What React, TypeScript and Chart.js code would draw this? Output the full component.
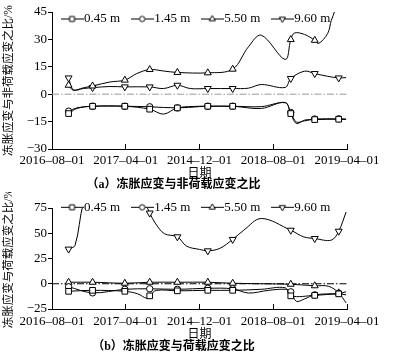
import React, { useEffect, useRef } from 'react';
import { Chart, registerables } from 'chart.js';
import { drawPoint } from 'chart.js/helpers';

Chart.register(...registerables);

// ---------------- data ----------------
const X_LABELS = ['2016–08–01', '2017–04–01', '2014–12–01', '2018–08–01', '2019–04–01'];
const MONTHS_PER_LABEL = 8;
const X_MAX = 32;
const SERIES = ['0.45 m', '1.45 m', '5.50 m', '9.60 m'];
const MARKER_MONTHS = [1.8, 4.4, 7.9, 10.6, 13.6, 16.9, 19.6, 25.9, 28.5, 31.1];
const ZERO_X = [0, 32];
const ZERO_Y = [0, 0];

// panel (a): 冻胀应变与非荷载应变之比
const A_X_045 = [1.8, 2.7, 4.4, 7.9, 10.6, 12.1, 13.6, 16.0, 16.9, 19.6, 22.7, 25.3, 25.9, 26.5, 27.4, 28.5, 31.1, 31.9];
const A_Y_045 = [-10.6, -7.8, -6.6, -6.6, -8.2, -10.9, -7.5, -6.6, -6.6, -6.6, -7.8, -4.5, -10.6, -16, -14.2, -13.9, -13.7, -13.8];
const A_X_145 = [1.8, 2.7, 4.4, 7.9, 10.6, 13.6, 16.0, 16.9, 19.6, 22.7, 25.3, 25.9, 26.5, 27.4, 28.5, 31.1, 31.9];
const A_Y_145 = [-9.3, -7.5, -6.6, -6.6, -6.9, -7.5, -6.8, -6.6, -6.6, -6.8, -4.7, -10, -15.2, -14.6, -13.6, -13.5, -13.6];
const A_X_550 = [1.8, 2.3, 3.4, 4.4, 6.3, 7.9, 9.2, 10.6, 12.1, 13.6, 16.9, 19.6, 21.3, 22.7, 25.3, 25.9, 26.3, 27.4, 28.5, 28.9, 29.9, 30.3, 30.7, 31.1];
const A_Y_550 = [4.9, 2.2, 3.5, 4.5, 6.7, 7.7, 11.3, 13.5, 12.7, 11.9, 11.7, 13.7, 25.9, 32.3, 19, 29.9, 33.5, 32.7, 29.5, 27.7, 33.2, 40.5, 46, 58];
const A_X_960 = [1.8, 2.3, 3.4, 4.4, 6.3, 7.9, 10.6, 12.1, 13.6, 15.0, 16.9, 19.6, 21.3, 22.7, 25.3, 25.9, 27.4, 28.5, 29.9, 31.1, 31.9];
const A_Y_960 = [8.9, 2.4, 3.1, 3.6, 4.2, 4.0, 4.0, 3.1, 4.9, 3.1, 3.1, 3.1, 3.3, 5.3, 3.7, 8.6, 12.6, 11.3, 9.8, 8.9, 9.1];
const A_Y_TICKS = { min: -30, max: 45, step: 15 };

// panel (b): 冻胀应变与荷载应变之比
const B_X_045 = [1.8, 4.4, 7.9, 9.3, 10.3, 10.6, 11.3, 13.6, 16.9, 19.6, 22.7, 25.3, 25.9, 28.5, 31.1, 31.9];
const B_Y_045 = [-7.5, -6.5, -7.5, -10, -14.5, -12, -6.6, -7, -6.5, -6.5, -5.5, -4, -12, -11.5, -10, -11];
const B_X_145 = [1.8, 4.4, 7.9, 10.6, 13.6, 16.9, 19.6, 21.3, 23.5, 25.3, 25.9, 26.5, 27.4, 28.5, 31.1, 31.9];
const B_Y_145 = [-3, -9, -5.5, -5, -5.5, -4.5, -5, -9.2, -6.5, -5.5, -8, -17.4, -15, -11, -9.5, -8];
const B_X_550 = [1.8, 4.4, 7.9, 10.6, 13.6, 16.9, 19.6, 22.7, 25.9, 28.5, 30.0, 31.1, 31.9];
const B_Y_550 = [1.5, 1.5, 0.5, 1.5, 1.5, 1.5, 0.5, 0, -0.5, -2, -2.5, -9, -19];
const B_X_960 = [1.8, 2.5, 3.4, 4.4, 7.9, 10.3, 10.6, 11.2, 12.2, 13.6, 14.6, 16.0, 16.9, 18.2, 19.6, 20.8, 22.7, 25.9, 27.3, 28.5, 30.3, 31.1, 31.9];
const B_Y_960 = [34.3, 38, 80, 100, 110, 76, 70, 60, 49.5, 46.5, 37.2, 34, 32.6, 35, 43.9, 53, 64.6, 53, 46.4, 44.8, 43.2, 52, 71];
const B_Y_TICKS = { min: -25, max: 75, step: 25 };

// ---------------- styling ----------------
const FONT = "'Liberation Serif', 'Noto Sans CJK SC', serif";
const MARKERS = [
  { pointStyle: 'rect', radius: 4, rotation: 0 },
  { pointStyle: 'circle', radius: 3.2, rotation: 0 },
  { pointStyle: 'triangle', radius: 4, rotation: 0 },
  { pointStyle: 'triangle', radius: 4, rotation: 180 },
];

const pts = (xs: number[], ys: number[]) => xs.map((x, i) => ({ x, y: ys[i] }));
const isMarker = (x: number) => MARKER_MONTHS.some((m) => Math.abs(m - x) < 0.01);

function makeIcon(i: number): HTMLCanvasElement {
  const c = document.createElement('canvas');
  c.width = 23;
  c.height = 11;
  const ctx = c.getContext('2d')!;
  ctx.strokeStyle = '#000';
  ctx.lineWidth = 1;
  ctx.beginPath();
  ctx.moveTo(0, 5.5);
  ctx.lineTo(23, 5.5);
  ctx.stroke();
  ctx.fillStyle = '#fff';
  const m = MARKERS[i];
  drawPoint(ctx, { pointStyle: m.pointStyle as any, rotation: m.rotation, radius: m.radius - 0.5, borderWidth: 1 }, 11.5, 5.5);
  return c;
}

const legendOverlay = (centerY: number, right: number) => ({
  id: 'legendOverlay',
  beforeInit(chart: any) {
    const lg = chart.legend;
    if (!lg) return;
    const fit = lg.fit;
    lg.fit = function () {
      fit.call(this);
      this._fullH = this.height;
      this.height = 0;
    };
  },
  beforeDraw(chart: any) {
    const lg = chart.legend;
    if (!lg) return;
    const pad = lg.options.labels.padding;
    lg.top = centerY - pad - 6.5;
    lg.bottom = lg.top + (lg._fullH || 30);
    lg.left = 0;
    lg.right = right;
    lg.width = right;
  },
});

interface Panel {
  series: { xs: number[]; ys: number[] }[];
  yTicks: { min: number; max: number; step: number };
  yTitle: string;
  caption: string;
  zeroColor: string;
  padTop: number;
  padBottom: number;
  xHeight: number;
  xTickPad: number;
  xTitlePad: number;
  legendY: number;
}

function buildConfig(p: Panel, icons: HTMLCanvasElement[]): any {
  const datasets: any[] = p.series.map((s, i) => ({
    label: SERIES[i],
    data: pts(s.xs, s.ys),
    borderColor: '#000',
    borderWidth: 1,
    tension: 0.35,
    fill: false,
    pointStyle: MARKERS[i].pointStyle,
    rotation: MARKERS[i].rotation,
    pointRadius: (c: any) => (c.raw && isMarker(c.raw.x) ? MARKERS[i].radius : 0),
    pointHoverRadius: 0,
    pointBackgroundColor: '#fff',
    pointBorderColor: '#000',
    pointBorderWidth: 1,
  }));
  datasets.push({
    label: 'zero',
    data: pts(ZERO_X, ZERO_Y),
    borderColor: p.zeroColor,
    borderWidth: 1,
    borderDash: [7, 2, 1.5, 2],
    pointRadius: 0,
    tension: 0,
  });
  const tickFont = { family: FONT, size: 13 };
  const titleFont = { family: FONT, size: 12, lineHeight: 1 };
  return {
    type: 'line',
    data: { datasets },
    options: {
      animation: false,
      responsive: true,
      maintainAspectRatio: false,
      events: [],
      layout: { padding: { top: p.padTop, right: 53, bottom: p.padBottom, left: 0 } },
      plugins: {
        tooltip: { enabled: false },
        legend: {
          display: true,
          position: 'top',
          labels: {
            usePointStyle: true,
            pointStyleWidth: 11,
            padding: 16.5,
            color: '#000',
            font: tickFont,
            generateLabels: () =>
              SERIES.map((name, i) => ({
                text: name,
                pointStyle: icons[i],
                datasetIndex: i,
                hidden: false,
                lineWidth: 0,
                fillStyle: 'transparent',
                strokeStyle: 'transparent',
                fontColor: '#000',
              })),
          },
        },
        title: {
          display: true,
          position: 'bottom',
          text: p.caption,
          color: '#000',
          font: titleFont,
          padding: 0,
        },
      },
      scales: {
        x: {
          type: 'linear',
          min: 0,
          max: X_MAX,
          ticks: {
            stepSize: MONTHS_PER_LABEL,
            autoSkip: false,
            maxRotation: 0,
            padding: p.xTickPad,
            color: '#000',
            font: tickFont,
            callback: (v: number) => X_LABELS[Math.round(v / MONTHS_PER_LABEL)] ?? '',
          },
          grid: { drawOnChartArea: false, tickLength: -5, color: '#000' },
          border: { color: '#000', width: 1 },
          title: { display: true, text: '日期', color: '#000', font: titleFont, padding: { top: 0, bottom: p.xTitlePad } },
          afterFit: (s: any) => {
            s.height = p.xHeight;
          },
        },
        y: {
          min: p.yTicks.min,
          max: p.yTicks.max,
          ticks: {
            stepSize: p.yTicks.step,
            padding: 1,
            color: '#000',
            font: tickFont,
            callback: (v: number) => (v < 0 ? '−' + Math.abs(v) : String(v)),
          },
          grid: { drawOnChartArea: false, tickLength: 4, color: '#000' },
          border: { color: '#000', width: 1 },
          title: { display: true, text: p.yTitle, color: '#000', font: { family: FONT, size: 11.5, lineHeight: 1 }, padding: { top: 3, bottom: 0 } },
          afterFit: (s: any) => {
            s.width = 52;
          },
        },
      },
    },
    plugins: [legendOverlay(p.legendY, 397)],
  };
}

const PANEL_A: Panel = {
  series: [
    { xs: A_X_045, ys: A_Y_045 },
    { xs: A_X_145, ys: A_Y_145 },
    { xs: A_X_550, ys: A_Y_550 },
    { xs: A_X_960, ys: A_Y_960 },
  ],
  yTicks: A_Y_TICKS,
  yTitle: '冻胀应变与非荷载应变之比/%',
  caption: '（a）冻胀应变与非荷载应变之比',
  zeroColor: '#9a9a9a',
  padTop: 12,
  padBottom: 1,
  xHeight: 30,
  xTickPad: 9,
  xTitlePad: -0.5,
  legendY: 19,
};

const PANEL_B: Panel = {
  series: [
    { xs: B_X_045, ys: B_Y_045 },
    { xs: B_X_145, ys: B_Y_145 },
    { xs: B_X_550, ys: B_Y_550 },
    { xs: B_X_960, ys: B_Y_960 },
  ],
  yTicks: B_Y_TICKS,
  yTitle: '冻胀应变与荷载应变之比/%',
  caption: '（b）冻胀应变与荷载应变之比',
  zeroColor: '#000',
  padTop: 16,
  padBottom: 3,
  xHeight: 32,
  xTickPad: 10,
  xTitlePad: 0.5,
  legendY: 15.3,
};

export default function App() {
  const topRef = useRef<HTMLCanvasElement>(null);
  const botRef = useRef<HTMLCanvasElement>(null);
  useEffect(() => {
    const icons = [0, 1, 2, 3].map(makeIcon);
    const c1 = new Chart(topRef.current!, buildConfig(PANEL_A, icons));
    const c2 = new Chart(botRef.current!, buildConfig(PANEL_B, icons));
    return () => {
      c1.destroy();
      c2.destroy();
    };
  }, []);
  return (
    <div style={{ position: 'absolute', left: 0, top: 0, width: 400, height: 356, background: '#fff' }}>
      <div style={{ position: 'absolute', left: 0, top: 0, width: 400, height: 192 }}>
        <canvas ref={topRef} />
      </div>
      <div style={{ position: 'absolute', left: 0, top: 192, width: 400, height: 164 }}>
        <canvas ref={botRef} />
      </div>
    </div>
  );
}
